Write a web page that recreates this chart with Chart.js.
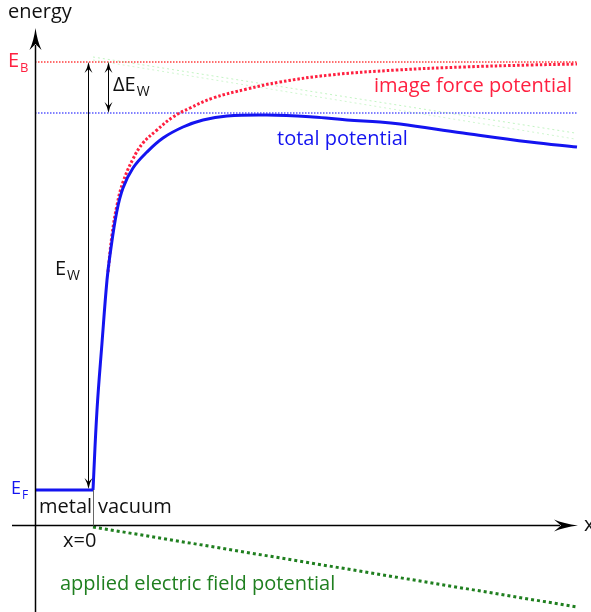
<!DOCTYPE html>
<html>
<head>
<meta charset="utf-8">
<script src="https://cdn.jsdelivr.net/npm/chart.js@4/dist/chart.umd.min.js"></script>
<style>
  html, body { margin: 0; padding: 0; background: #fff; }
  canvas { display: block; }
</style>
</head>
<body>
<canvas id="chart" width="591" height="612"></canvas>
<script>
// energy levels (arbitrary units, 0 = x axis)
const E_F = 3.5;
const E_B = 46.3;
const E_TOP = 41.2;

// metal side of the total potential
const metalX = [-5.8, 0];
const metalE = [3.5, 3.5];

// vacuum side of the total potential
const totalX = [0, 0.4, 0.9, 1.4, 1.7, 2.37, 3.0, 4.0, 5.4, 7.0, 9.0, 11.0, 13.4, 17.4, 22.0, 25.4, 28.7, 30.7, 37.0, 43.7, 48.4];
const totalE = [3.5, 11.5, 18.2, 24.5, 27.0, 31.3, 33.7, 35.7, 37.3, 38.7, 39.8, 40.5, 40.9, 41.0, 40.8, 40.5, 40.3, 40.1, 39.2, 38.3, 37.8];

// image force potential
const imageX = [1.5, 1.9, 2.4, 3.0, 4.0, 5.0, 6.4, 8.0, 9.7, 12.0, 15.4, 18.7, 23.7, 30.4, 37.0, 43.7, 48.4];
const imageE = [25.3, 29.0, 32.0, 34.3, 36.6, 38.2, 39.5, 40.8, 41.7, 42.7, 43.6, 44.3, 45.0, 45.5, 45.8, 46.0, 46.1];

// applied electric field potential
const fieldX = [0, 48.4];
const fieldE = [-0.2, -8.2];

// faint field lines shifted up to the barrier
const faintX = [0, 48.2];
const faintE1 = [46.8, 39.2];
const faintE2 = [46.5, 38.6];

// horizontal level lines span
const levelX = [-5.8, 48.4];

const pts = (xs, es) => xs.map((x, i) => ({ x: x, y: es[i] }));

const BLUE = "#1414f0";
const RED = "#ff2040";
const GREEN = "#1f7f1f";
const FONT = "'Open Sans', sans-serif";

function stealth(ctx, x, y, ang, len, half, notch) {
  ctx.save();
  ctx.translate(x, y);
  ctx.rotate(ang);
  ctx.beginPath();
  ctx.moveTo(0, 0);
  ctx.quadraticCurveTo(-len * 0.6, -half * 0.3, -len, -half);
  ctx.lineTo(-notch, 0);
  ctx.lineTo(-len, half);
  ctx.quadraticCurveTo(-len * 0.6, half * 0.3, 0, 0);
  ctx.closePath();
  ctx.fill();
  ctx.restore();
}

function subText(ctx, main, sub, x, y, color, size, subSize) {
  ctx.fillStyle = color;
  ctx.font = size + "px " + FONT;
  ctx.fillText(main, x, y);
  const w = ctx.measureText(main).width;
  ctx.font = subSize + "px " + FONT;
  ctx.fillText(sub, x + w + 1, y + 5);
}

const annotations = {
  id: "annotations",
  afterDraw(chart) {
    const ctx = chart.ctx;
    const sx = chart.scales.x, sy = chart.scales.y;
    const px = v => sx.getPixelForValue(v);
    const py = v => sy.getPixelForValue(v);
    ctx.save();
    ctx.strokeStyle = "#000";
    ctx.fillStyle = "#000";

    // energy axis
    const ax = Math.round(px(-5.8)) + 0.5;
    ctx.lineWidth = 1.5;
    ctx.beginPath();
    ctx.moveTo(ax, 612);
    ctx.lineTo(ax, 45);
    ctx.stroke();
    stealth(ctx, ax, 28, -Math.PI / 2, 22, 6, 16);

    // x axis
    const ay = Math.round(py(0)) + 0.5;
    ctx.beginPath();
    ctx.moveTo(12, ay);
    ctx.lineTo(560, ay);
    ctx.stroke();
    stealth(ctx, 578, ay, 0, 24, 6, 17);

    // metal / vacuum boundary
    ctx.strokeStyle = "#666";
    ctx.lineWidth = 1;
    ctx.beginPath();
    ctx.moveTo(Math.round(px(0)) + 0.5, py(E_F));
    ctx.lineTo(Math.round(px(0)) + 0.5, ay);
    ctx.stroke();

    // E_W arrow
    ctx.strokeStyle = "#000";
    ctx.fillStyle = "#000";
    const wx = Math.round(px(-0.5)) + 0.5;
    ctx.beginPath();
    ctx.moveTo(wx, py(E_B) + 6);
    ctx.lineTo(wx, py(E_F) - 6);
    ctx.stroke();
    stealth(ctx, wx, py(E_B), -Math.PI / 2, 11, 4, 7);
    stealth(ctx, wx, py(E_F) - 1, Math.PI / 2, 11, 4, 7);

    // delta E_W arrow
    const dx = Math.round(px(1.5)) + 0.5;
    ctx.beginPath();
    ctx.moveTo(dx, py(E_B) + 6);
    ctx.lineTo(dx, py(E_TOP) - 6);
    ctx.stroke();
    stealth(ctx, dx, py(E_B), -Math.PI / 2, 11, 4, 7);
    stealth(ctx, dx, py(E_TOP), Math.PI / 2, 11, 4, 7);

    // labels
    ctx.textBaseline = "alphabetic";
    ctx.fillStyle = "#111";
    ctx.font = "20px " + FONT;
    ctx.fillText("energy", 8, 18);
    ctx.fillText("metal", 39, 513);
    ctx.fillText("vacuum", 98, 513);
    ctx.fillText("x=0", 63, 547);
    ctx.fillText("x", 584, 531);
    subText(ctx, "\u0394E", "W", 113, 91, "#111", 20, 14);
    subText(ctx, "E", "W", 55, 275, "#111", 20, 14);
    subText(ctx, "E", "B", 8, 67, RED, 20, 13);
    subText(ctx, "E", "F", 11, 494, BLUE, 18, 12);

    ctx.font = "20px " + FONT;
    ctx.fillStyle = RED;
    ctx.fillText("image force potential", 374, 92);
    ctx.fillStyle = BLUE;
    ctx.fillText("total potential", 277, 145);
    ctx.fillStyle = GREEN;
    ctx.fillText("applied electric field potential", 60, 590);
    ctx.restore();
  }
};

new Chart(document.getElementById("chart"), {
  type: "scatter",
  data: {
    datasets: [
      { data: pts(totalX, totalE), borderColor: BLUE, borderWidth: 3, tension: 0.4 },
      { data: pts(metalX, metalE), borderColor: BLUE, borderWidth: 3 },
      { data: pts(imageX, imageE), borderColor: RED, borderWidth: 3, borderDash: [2.5, 2], tension: 0.4 },
      { data: pts(fieldX, fieldE), borderColor: GREEN, borderWidth: 3, borderDash: [3, 3] },
      { data: pts(faintX, faintE1), borderColor: "rgba(120,230,120,0.45)", borderWidth: 1, borderDash: [2, 3] },
      { data: pts(faintX, faintE2), borderColor: "rgba(120,230,120,0.35)", borderWidth: 1, borderDash: [2, 3] },
      { data: pts(levelX, [E_B, E_B]), borderColor: "rgba(255,40,40,0.9)", borderWidth: 1.3, borderDash: [1.5, 1.5] },
      { data: pts(levelX, [E_TOP, E_TOP]), borderColor: "rgba(70,70,255,0.9)", borderWidth: 1.3, borderDash: [1.5, 1.5] }
    ].map(d => Object.assign({ showLine: true, pointRadius: 0, fill: false }, d))
  },
  options: {
    responsive: false,
    animation: false,
    devicePixelRatio: 1,
    layout: { padding: 0 },
    plugins: { legend: { display: false }, tooltip: { enabled: false } },
    scales: {
      x: { type: "linear", min: -9.3, max: 49.8, display: false },
      y: { type: "linear", min: -8.7, max: 52.5, display: false }
    }
  },
  plugins: [annotations]
});
</script>
</body>
</html>
